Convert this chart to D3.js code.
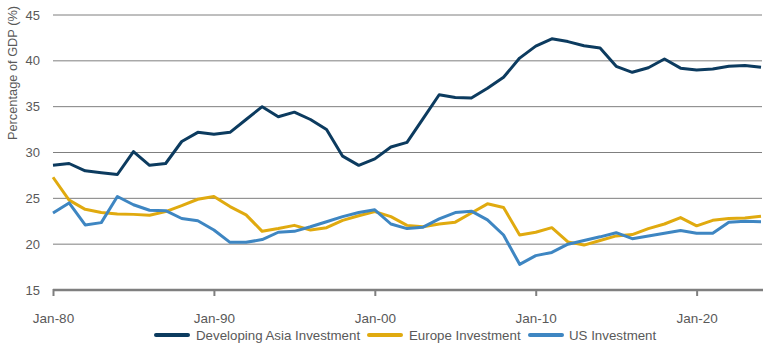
<!DOCTYPE html>
<html>
<head>
<meta charset="utf-8">
<script src="https://cdn.jsdelivr.net/npm/d3@7/dist/d3.min.js"></script>
<style>
  html, body { margin: 0; padding: 0; background: #fff; }
  svg { display: block; font-family: "Liberation Sans", Arial, sans-serif; }
</style>
</head>
<body>
<svg id="chart" width="770" height="350"></svg>
<script>
const years = d3.range(1980, 2025);
const asia = [28.6, 28.8, 28.0, 27.8, 27.6, 30.1, 28.6, 28.8, 31.2, 32.2,
              32.0, 32.2, 33.6, 35.0, 33.9, 34.4, 33.6, 32.5, 29.6, 28.6,
              29.3, 30.6, 31.1, 33.7, 36.3, 36.0, 35.95, 37.0, 38.2, 40.3,
              41.6, 42.4, 42.1, 41.65, 41.4, 39.4, 38.75, 39.25, 40.2, 39.2,
              39.0, 39.1, 39.4, 39.5, 39.3];
const europe = [27.3, 24.8, 23.8, 23.45, 23.3, 23.25, 23.15, 23.55, 24.2, 24.9,
                25.2, 24.1, 23.2, 21.4, 21.7, 22.05, 21.55, 21.8, 22.6, 23.1,
                23.55, 23.0, 22.05, 21.9, 22.2, 22.4, 23.4, 24.4, 24.0, 21.0,
                21.3, 21.8, 20.25, 19.9, 20.4, 20.9, 21.05, 21.7, 22.2, 22.9,
                22.0, 22.6, 22.8, 22.85, 23.05];
const us = [23.4, 24.5, 22.1, 22.35, 25.2, 24.3, 23.7, 23.65, 22.8, 22.55,
            21.55, 20.2, 20.2, 20.5, 21.3, 21.4, 21.9, 22.45, 23.0, 23.45,
            23.75, 22.2, 21.7, 21.85, 22.75, 23.45, 23.6, 22.65, 21.0, 17.8,
            18.75, 19.1, 20.0, 20.4, 20.8, 21.25, 20.6, 20.9, 21.2, 21.5,
            21.2, 21.2, 22.4, 22.5, 22.45];
const seriesNames = ["Developing Asia Investment", "Europe Investment", "US Investment"];
const seriesColors = ["#0c3b5f", "#e0aa0f", "#3e86c2"];
const yTicks = [15, 20, 25, 30, 35, 40, 45];
const xTickYears = [1980, 1990, 2000, 2010, 2020];
const xTickLabels = ["Jan-80", "Jan-90", "Jan-00", "Jan-10", "Jan-20"];
const yTitle = "Percentage of GDP (%)";

const svg = d3.select("#chart");
const mLeft = 53, mRight = 761, mTop = 15, mBottom = 290;
const x = d3.scaleLinear().domain([1980, 2024]).range([mLeft, mRight]);
const y = d3.scaleLinear().domain([15, 45]).range([mBottom, mTop]);
const textColor = "#595959";

// gridlines
svg.append("g").selectAll("line").data(yTicks.filter(d => d > 15)).join("line")
  .attr("x1", mLeft).attr("x2", mRight + 1)
  .attr("y1", d => y(d)).attr("y2", d => y(d))
  .attr("stroke", "#7f7f7f").attr("stroke-width", 1);

// y labels
svg.append("g").selectAll("text").data(yTicks).join("text")
  .attr("x", 40).attr("y", d => y(d)).attr("dy", "0.35em")
  .attr("text-anchor", "end").attr("font-size", 13).attr("fill", textColor)
  .text(d => d);

// x axis
const xAxis = d3.axisBottom(x).tickValues(xTickYears)
  .tickFormat((d, i) => xTickLabels[i]).tickSize(6).tickSizeOuter(0).tickPadding(17);
const gx = svg.append("g").attr("transform", `translate(0,${mBottom})`).call(xAxis);
gx.select(".domain").attr("stroke", "#7f7f7f").attr("stroke-width", 2.5)
  .attr("d", `M${mLeft},0H${mRight + 2}`);
gx.selectAll(".tick line").attr("stroke", "#7f7f7f").attr("stroke-width", 2).attr("y1", -1);
gx.selectAll(".tick text").attr("fill", textColor).attr("font-size", 13.5)
  .attr("font-family", "Liberation Sans, Arial, sans-serif");

// y title
svg.append("text")
  .attr("transform", `translate(17,73) rotate(-90)`)
  .attr("text-anchor", "middle").attr("font-size", 12.8).attr("fill", textColor)
  .text(yTitle);

// lines
const line = d3.line().x((d, i) => x(years[i])).y(d => y(d));
[asia, europe, us].forEach((s, k) => {
  svg.append("path").datum(s)
    .attr("d", line).attr("fill", "none")
    .attr("stroke", seriesColors[k]).attr("stroke-width", 3)
    .attr("stroke-linejoin", "round");
});

// legend
const legendItems = [
  {sx: 156, tx: 196},
  {sx: 369, tx: 409},
  {sx: 530, tx: 569}
];
const lg = svg.append("g");
seriesNames.forEach((n, k) => {
  lg.append("line").attr("x1", legendItems[k].sx).attr("x2", legendItems[k].sx + 32)
    .attr("y1", 335).attr("y2", 335)
    .attr("stroke", seriesColors[k]).attr("stroke-width", 4).attr("stroke-linecap", "round");
  lg.append("text").attr("x", legendItems[k].tx).attr("y", 335).attr("dy", "0.35em")
    .attr("font-size", 13.3).attr("fill", textColor).text(n);
});
</script>
</body>
</html>
